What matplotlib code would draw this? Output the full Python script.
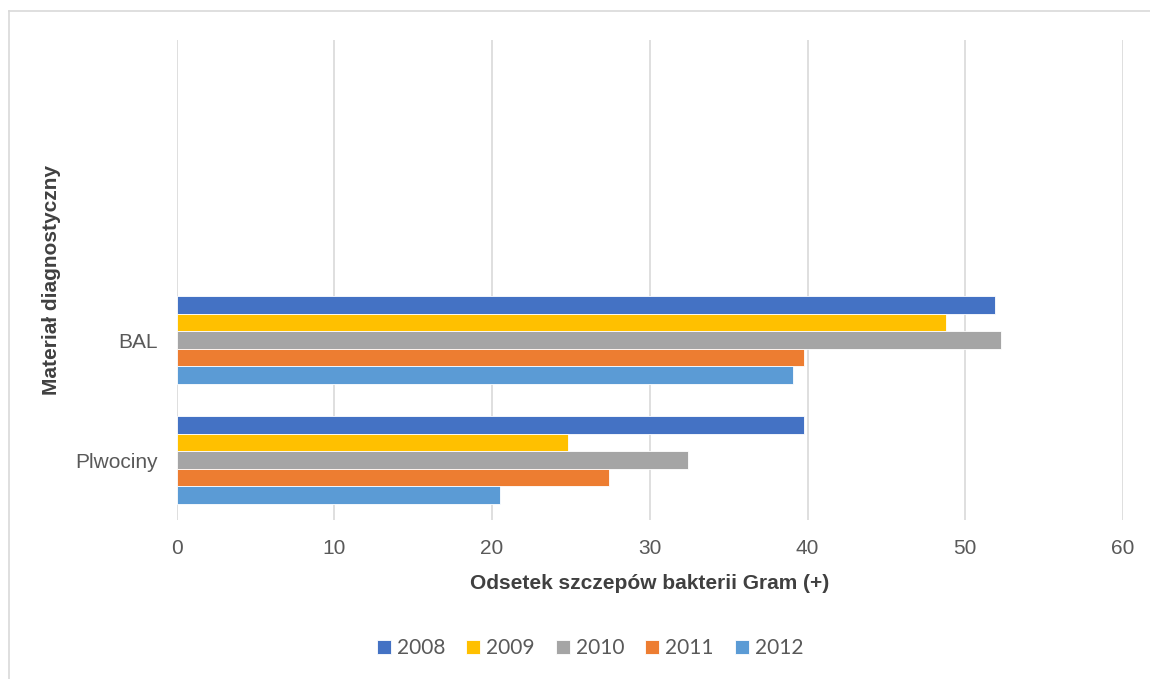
import numpy as np
import matplotlib.pyplot as plt
from matplotlib.lines import Line2D

categories = ["Plwociny", "BAL"]
years = ["2008", "2009", "2010", "2011", "2012"]
values = {
    "2008": [39.8, 51.9],
    "2009": [24.8, 48.8],
    "2010": [32.4, 52.3],
    "2011": [27.4, 39.8],
    "2012": [20.5, 39.1],
}
colors = ["#4472C4", "#FFC000", "#A5A5A5", "#ED7D31", "#5B9BD5"]

fig = plt.figure(figsize=(11.5, 6.79), dpi=100)
ax = fig.add_axes([176.7 / 1150, 1 - 520 / 679, (1122.9 - 176.7) / 1150, 480 / 679])

y = np.arange(len(categories))
h = 0.147
for i, yr in enumerate(years):
    # 2008 on top of each group
    off = (2 - i) * h
    ax.barh(y + off, values[yr], height=h, color=colors[i],
            edgecolor="white", linewidth=0.6, label=yr, zorder=3)

ax.set_xlim(0, 60)
ax.set_ylim(-0.5, 3.5)
ax.set_xticks(range(0, 61, 10))
ax.set_yticks(y)
ax.set_yticklabels(categories)
ax.grid(axis="x", color="#D9D9D9", linewidth=1.2, zorder=0)
for s in ax.spines.values():
    s.set_visible(False)
ax.tick_params(length=0, labelsize=15, colors="#595959")
for lbl in ax.get_xticklabels() + ax.get_yticklabels():
    lbl.set_family("Liberation Sans")
ax.tick_params(axis="x", pad=14)
ax.tick_params(axis="y", pad=13.5)

ax.set_xlabel("Odsetek szczepów bakterii Gram (+)", fontsize=15, fontweight="bold",
              color="#404040", family="Liberation Sans", labelpad=11)
ax.set_ylabel("Materiał diagnostyczny", fontsize=15, fontweight="bold",
              color="#404040", family="Liberation Sans", labelpad=10)

leg = fig.legend(loc="center", bbox_to_anchor=(590 / 1150, 1 - 648 / 679), ncol=5,
                 frameon=False, prop={"family": "Lato", "size": 15},
                 handlelength=0.67, handleheight=0.67, handletextpad=0.3,
                 columnspacing=1.0)
for t in leg.get_texts():
    t.set_color("#595959")

# chart frame (top and left edges)
fig.add_artist(Line2D([9 / 1150, 1.0], [1 - 11 / 679] * 2, color="#D9D9D9", linewidth=1.2))
fig.add_artist(Line2D([9 / 1150] * 2, [0, 1 - 11 / 679], color="#D9D9D9", linewidth=1.2))

fig.savefig("out.png", dpi=100)
